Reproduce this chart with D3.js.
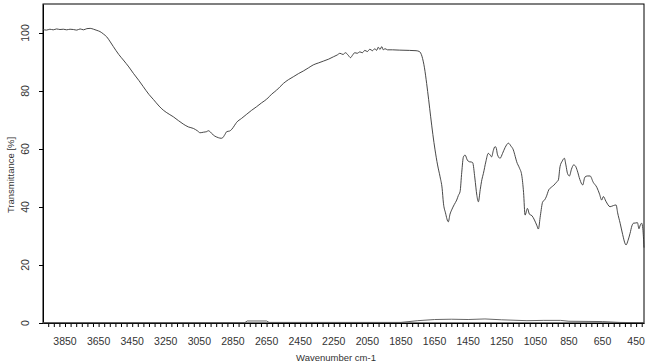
<!DOCTYPE html>
<html>
<head>
<meta charset="utf-8">
<script src="https://cdn.jsdelivr.net/npm/d3@7"></script>
<style>
  body { margin: 0; background: #fff; }
  svg { display: block; font-family: "Liberation Sans", Arial, sans-serif; }
</style>
</head>
<body>
<div id="chart"></div>
<script>
// spectrum (wavenumber cm-1, transmittance %)
const wavenumbers = [3981,3960,3940,3920,3900,3880,3860,3840,3820,3800,3780,3760,3740,3720,3700,3680,3660,3642,3620,3602,3580,3562,3530,3503,3470,3443,3410,3384,3350,3324,3290,3265,3230,3205,3175,3146,3115,3086,3060,3046,3025,3006,2997,2985,2967,2950,2937,2920,2911,2898,2887,2870,2857,2840,2828,2800,2768,2740,2709,2680,2649,2620,2590,2550,2520,2491,2460,2431,2400,2372,2340,2312,2280,2252,2230,2213,2195,2180,2165,2150,2140,2125,2110,2095,2080,2065,2050,2035,2020,2005,1995,1985,1975,1964,1955,1945,1930,1900,1860,1800,1760,1740,1725,1710,1697,1685,1673,1660,1647,1632,1617,1605,1597,1585,1568,1558,1548,1533,1518,1508,1498,1488,1478,1468,1455,1443,1430,1423,1410,1398,1389,1378,1368,1359,1345,1330,1320,1310,1300,1290,1284,1275,1260,1245,1230,1210,1195,1181,1170,1161,1145,1131,1120,1111,1097,1085,1070,1055,1040,1032,1020,1006,995,985,970,955,940,925,913,903,890,877,868,858,847,835,822,812,800,785,768,755,740,724,705,684,668,655,645,630,605,585,569,560,545,530,515,510,498,486,475,466,452,442,433,425,417,410,403];
const transmittance = [101.2,101.0,101.3,101.1,101.4,101.2,101.3,101.1,101.3,101.2,101.0,101.4,101.1,101.5,101.6,101.3,100.9,100.5,99.6,98.7,96.9,95.3,92.6,90.7,88.3,86.1,83.6,81.5,78.8,77.1,74.8,73.4,72.0,71.1,69.8,68.6,67.6,67.1,66.2,65.6,65.8,66.0,66.3,65.9,64.8,64.2,63.9,63.7,63.9,65.0,66.0,66.2,66.8,68.2,69.2,70.5,72.0,73.3,74.6,75.9,77.2,78.9,80.3,82.6,83.9,84.9,86.0,86.9,88.0,89.0,89.7,90.3,91.0,91.8,92.4,93.0,92.6,93.2,92.4,91.5,92.2,93.2,93.0,93.5,93.2,94.0,93.6,94.4,93.9,94.6,94.0,95.1,94.3,95.3,94.2,94.6,94.2,94.2,94.1,94.0,93.9,93.6,92.0,88.0,82.6,77.0,71.1,65.0,59.7,54.5,50.4,46.5,41.3,38.0,34.9,37.5,39.0,40.8,42.4,44.0,45.3,52.0,57.3,57.9,56.2,55.6,55.5,55.3,50.0,44.0,41.8,46.0,49.5,51.6,55.5,58.5,58.0,57.3,59.5,60.8,60.6,58.0,56.8,58.5,60.5,62.0,61.0,59.7,57.5,55.6,53.5,51.0,45.0,37.2,39.5,37.5,37.0,35.5,33.5,32.4,37.0,41.8,42.4,43.5,45.9,46.8,47.5,48.5,49.3,53.9,55.8,56.8,54.5,51.5,50.7,53.0,54.5,54.2,52.5,49.5,47.6,50.3,50.7,50.7,48.5,46.8,44.5,42.4,43.6,42.0,40.1,40.5,40.7,38.0,34.4,30.5,27.3,26.9,28.5,30.9,33.5,34.4,34.5,34.6,32.5,33.8,34.4,32.5,26.0];

// faint second trace lying on the baseline
const baseWavenumbers = [3981,2780,2765,2650,2635,1850,1750,1650,1550,1450,1350,1250,1100,1000,900,850,650,550,403];
const baseValues = [0.1,0.1,0.7,0.7,0.2,0.2,0.8,1.2,1.3,1.2,1.4,1.1,0.8,0.9,0.9,0.6,0.5,0.2,0.1];

const xLabelTicks = [3850,3650,3450,3250,3050,2850,2650,2450,2250,2050,1850,1650,1450,1250,1050,850,650,450];
const yTicks = [0,20,40,60,80,100];

const width = 650, height = 364;
const margin = {top: 4, right: 6, bottom: 41, left: 43};

const svg = d3.select("#chart").append("svg")
    .attr("width", width)
    .attr("height", height);

const x = d3.scaleLinear().domain([3981, 403]).range([margin.left, width - margin.right]);
const y = d3.scaleLinear().domain([0, 110]).range([height - margin.bottom, margin.top]);

// minor ticks every 200/6 cm-1, lined up with the labels
const minorTicks = [];
for (let k = -3; k <= 108; k++) {
    const v = 3850 - k * 200 / 6;
    if (v <= 3981 && v >= 403) minorTicks.push(v);
}

const xAxis = svg.append("g")
    .attr("transform", `translate(0,${height - margin.bottom})`)
    .call(d3.axisBottom(x).tickValues(minorTicks).tickSize(4).tickFormat("").tickSizeOuter(0));
xAxis.select(".domain").attr("stroke", "#000");
xAxis.selectAll(".tick line").attr("stroke", "#000");

svg.append("g")
    .selectAll("text")
    .data(xLabelTicks)
    .join("text")
    .attr("x", d => x(d))
    .attr("y", 345)
    .attr("text-anchor", "middle")
    .attr("font-size", 10.5)
    .attr("fill", "#333")
    .text(d => d);

const yAxis = svg.append("g")
    .attr("transform", `translate(${margin.left},0)`)
    .call(d3.axisLeft(y).tickValues(yTicks).tickSize(4).tickSizeOuter(0).tickFormat(""));
yAxis.select(".domain").attr("stroke", "#000");
yAxis.selectAll(".tick line").attr("stroke", "#000");

svg.append("g")
    .selectAll("text")
    .data(yTicks)
    .join("text")
    .attr("transform", d => `translate(28.5,${y(d)}) rotate(-90)`)
    .attr("text-anchor", "middle")
    .attr("font-size", 10.5)
    .attr("fill", "#333")
    .text(d => d);

// frame
svg.append("rect")
    .attr("x", margin.left)
    .attr("y", margin.top)
    .attr("width", width - margin.right - margin.left)
    .attr("height", height - margin.bottom - margin.top)
    .attr("fill", "none")
    .attr("stroke", "#000")
    .attr("stroke-width", 1);

const line = d3.line().x(d => x(d[0])).y(d => y(d[1]));

svg.append("path")
    .datum(d3.zip(baseWavenumbers, baseValues))
    .attr("d", line)
    .attr("fill", "none")
    .attr("stroke", "#555")
    .attr("stroke-width", 0.9);

svg.append("path")
    .datum(d3.zip(wavenumbers, transmittance))
    .attr("d", line.curve(d3.curveMonotoneX))
    .attr("fill", "none")
    .attr("stroke", "#333")
    .attr("stroke-width", 0.9);

// axis titles
svg.append("text")
    .attr("x", 336)
    .attr("y", 361)
    .attr("text-anchor", "middle")
    .attr("font-size", 9.5)
    .attr("fill", "#333")
    .text("Wavenumber cm-1");

svg.append("text")
    .attr("transform", `translate(14,175) rotate(-90)`)
    .attr("text-anchor", "middle")
    .attr("font-size", 9.5)
    .attr("fill", "#333")
    .text("Transmittance [%]");
</script>
</body>
</html>
